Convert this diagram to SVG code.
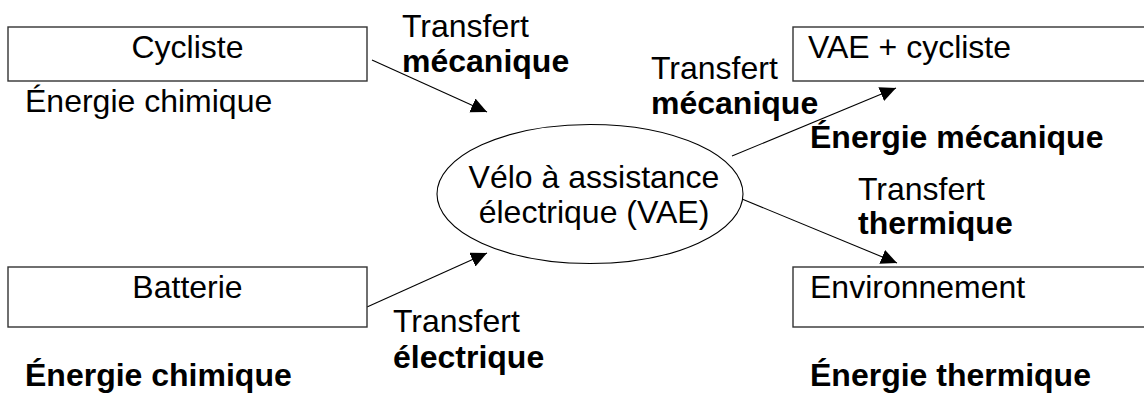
<svg xmlns="http://www.w3.org/2000/svg" width="1144" height="398" viewBox="0 0 1144 398">
<style>
text{font-family:"Liberation Sans",Arial,sans-serif;font-size:32px;fill:#000}
.b{font-weight:bold}
.box{fill:#fff;stroke:#333;stroke-width:1.4}
.c{stroke:#000;stroke-width:1.1;fill:none}
</style>
<defs>
<marker id="ah" markerUnits="userSpaceOnUse" markerWidth="17" markerHeight="16" refX="16" refY="7.5" orient="auto">
<path d="M0,0 L16,7.5 L0,15 z" fill="#000"/>
</marker>
</defs>
<rect width="1144" height="398" fill="#fff"/>
<g id="connectors">
<line class="c" x1="372" y1="60" x2="487" y2="112" marker-end="url(#ah)"/>
<line class="c" x1="732" y1="156" x2="896" y2="88" marker-end="url(#ah)"/>
<line class="c" x1="742" y1="199" x2="897" y2="263" marker-end="url(#ah)"/>
<line class="c" x1="367" y1="307" x2="487" y2="253" marker-end="url(#ah)"/>
</g>
<g id="cycliste">
<rect class="box" x="8" y="27" width="359" height="54"/>
<text x="187.5" y="58" text-anchor="middle">Cycliste</text>
<text x="25" y="112">Énergie chimique</text>
</g>
<g id="batterie">
<rect class="box" x="8" y="267" width="359" height="60"/>
<text x="187.5" y="298" text-anchor="middle">Batterie</text>
<text class="b" x="25" y="386">Énergie chimique</text>
</g>
<g id="vae">
<ellipse cx="590" cy="194" rx="153" ry="69.5" fill="#fff" stroke="#000" stroke-width="1.1"/>
<text x="594" y="188" text-anchor="middle">Vélo à assistance</text>
<text x="594" y="223" text-anchor="middle">électrique (VAE)</text>
</g>
<g id="vae-cycliste">
<rect class="box" x="793" y="27" width="359" height="54"/>
<text x="808" y="58">VAE + cycliste</text>
<text class="b" x="810" y="148">Énergie mécanique</text>
</g>
<g id="environnement">
<rect class="box" x="793" y="267" width="359" height="60"/>
<text x="810" y="298">Environnement</text>
<text class="b" x="810" y="386">Énergie thermique</text>
</g>
<g id="labels">
<text x="402" y="37">Transfert</text>
<text class="b" x="402" y="72">mécanique</text>
<text x="651" y="79">Transfert</text>
<text class="b" x="651" y="114">mécanique</text>
<text x="858" y="200">Transfert</text>
<text class="b" x="858" y="234">thermique</text>
<text x="393" y="332">Transfert</text>
<text class="b" x="393" y="368">électrique</text>
</g>
</svg>
